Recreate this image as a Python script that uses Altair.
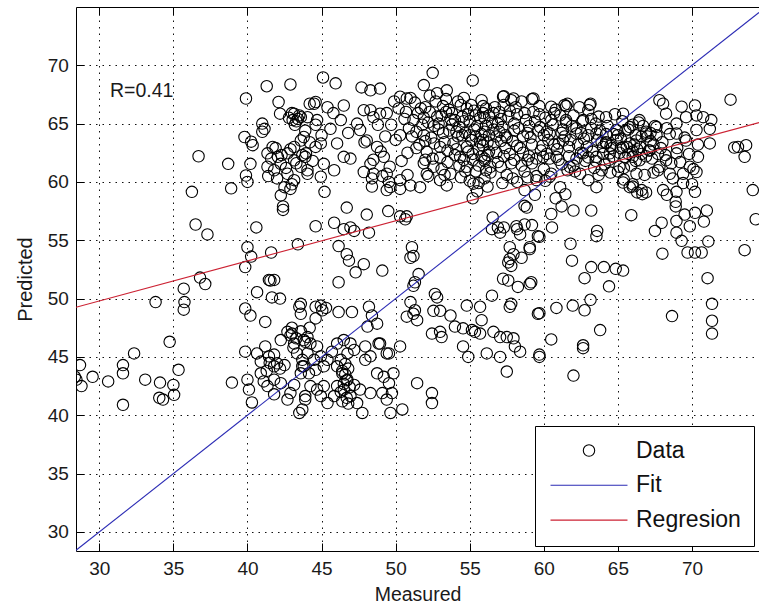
import altair as alt
import pandas as pd

# ---------------- data ----------------
x_domain = [28.43, 74.52]
y_domain = [28.37, 74.99]
x_ticks = [30, 35, 40, 45, 50, 55, 60, 65, 70]
y_ticks = [30, 35, 40, 45, 50, 55, 60, 65, 70]

series_names = ["Data", "Fit", "Regresion"]
series_colors = ["#000000", "#2b2bb4", "#cc2233"]

fit_x = [28.43, 74.52]
fit_y = [28.43, 74.52]
reg_x = [28.43, 74.52]
reg_y = [49.26, 65.08]

r_label = ["R=0.41"]
r_label_x = [30.72]
r_label_y = [67.77]

# scatter points (Measured, Predicted), grouped by region of the plot
cluster_far_left = [
    (28.35, 43.3), (28.46, 43.05), (28.7, 44.3), (28.8, 42.5), (29.55, 43.3), (30.6, 42.9),
    (31.6, 44.3), (31.6, 43.6), (31.6, 40.9), (32.35, 45.3), (33.1, 43.05), (33.8, 49.7),
    (34.1, 42.8), (34.05, 41.5), (34.3, 41.35), (34.75, 46.3), (35.0, 42.6), (35.05, 41.75),
    (35.35, 43.9), (35.7, 50.85), (35.75, 49.7), (35.7, 49.05), (36.5, 56.35), (37.3, 55.5),
    (36.8, 51.8), (37.15, 51.25), (38.95, 42.8), (39.85, 45.45),
]
cluster_left_low = [
    (40.0, 43.05), (40.1, 42.2), (40.3, 41.1), (39.85, 49.15), (40.2, 48.55), (39.85, 52.7),
    (40.0, 54.4), (40.25, 53.6), (40.6, 56.1), (40.65, 50.55), (41.2, 48.0), (41.55, 51.55),
    (41.65, 50.1), (41.6, 53.95), (43.4, 54.65), (42.4, 57.9), (42.4, 57.6),
    (40.65, 45.3), (40.9, 44.6), (41.2, 45.9), (41.45, 45.05), (41.8, 44.2), (42.0, 44.45),
    (41.8, 43.05), (42.25, 46.45), (42.7, 47.15), (42.9, 46.85), (43.15, 46.15), (43.35, 45.3),
    (43.7, 44.75), (43.8, 44.2), (43.6, 43.6), (44.05, 46.7), (43.15, 42.6), (42.9, 41.9),
    (42.7, 41.35), (43.5, 40.2), (43.9, 41.35), (41.1, 42.9), (41.35, 42.5), (40.9, 43.6),
    (41.8, 41.8), (42.25, 42.75), (43.0, 47.0), (43.3, 46.6), (43.6, 47.2), (43.9, 46.3),
    (44.2, 47.5), (43.1, 45.8), (41.5, 44.5), (41.8, 45.2), (42.2, 44.0), (42.5, 44.3),
    (41.3, 43.8), (43.5, 49.3), (43.0, 47.5), (42.2, 50.0), (41.8, 51.6), (41.45, 51.6),
]
cluster_mid_low = [
    (43.8, 46.45), (44.25, 46.15), (44.7, 45.9), (44.05, 45.3), (44.5, 44.75), (44.95, 45.05),
    (45.4, 44.75), (43.7, 44.2), (44.15, 43.6), (44.6, 43.9), (45.15, 44.2), (45.7, 45.45),
    (46.05, 46.15), (46.5, 46.45), (46.95, 46.15), (46.75, 45.3), (47.2, 45.6), (46.3, 44.75),
    (46.05, 44.2), (46.4, 43.6), (46.75, 43.05), (46.05, 42.5), (46.5, 42.2), (46.95, 41.65),
    (46.4, 41.2), (45.85, 41.65), (45.4, 41.05), (44.95, 41.65), (44.25, 42.5), (44.7, 42.2),
    (45.15, 42.5), (43.9, 41.65), (47.2, 42.6), (47.6, 42.2), (47.95, 44.75), (48.3, 45.05),
    (48.85, 46.15), (49.4, 45.3), (48.75, 43.6), (49.2, 43.3), (49.55, 42.75), (49.75, 41.9),
    (49.4, 41.35), (49.1, 41.9), (49.85, 43.6), (49.65, 40.2), (50.45, 40.5), (51.45, 42.75),
    (52.45, 41.9), (52.45, 41.05), (43.7, 40.5), (47.75, 40.2), (47.4, 41.05), (48.3, 41.9),
    (46.6, 43.5), (46.7, 43.0), (46.5, 42.7), (46.8, 44.0), (46.6, 44.4), (46.4, 43.8),
    (46.9, 42.4), (46.3, 42.0), (46.7, 41.5), (46.8, 41.0),
]
cluster_mid_band = [
    (46.7, 57.8), (48.05, 57.2), (49.5, 57.5), (50.3, 57.05), (50.65, 56.8), (50.75, 57.05),
    (44.6, 56.2), (45.85, 56.5), (46.5, 55.95), (46.95, 56.1), (47.2, 55.8), (48.2, 55.65),
    (46.15, 54.5), (46.7, 53.8), (46.85, 53.25), (47.85, 52.95), (47.3, 52.25), (49.1, 52.4),
    (46.15, 51.4), (51.1, 54.4), (51.2, 53.65), (51.0, 53.5), (51.55, 52.1), (51.3, 51.4),
    (51.2, 51.1), (56.5, 55.95), (57.05, 55.65), (57.3, 56.1), (58.15, 56.2), (58.7, 56.35),
    (58.85, 57.8), (58.4, 55.5), (59.6, 55.35), (57.7, 54.4), (57.95, 53.8), (57.7, 53.4),
    (57.6, 53.1), (57.8, 52.8), (59.05, 54.25), (57.25, 51.7), (57.6, 51.55), (58.25, 51.0),
    (59.05, 51.25), (57.8, 49.55), (57.7, 49.3), (59.6, 48.7), (59.7, 45.2),
    (43.6, 49.55), (44.6, 49.3), (45.05, 49.0), (44.95, 49.4), (46.15, 48.85), (47.05, 48.85),
    (48.2, 49.3), (48.4, 48.55), (48.75, 47.85), (48.1, 47.6), (48.95, 46.15), (47.95, 45.9),
    (49.55, 45.3), (50.3, 45.9), (50.75, 48.45), (51.2, 48.7), (51.45, 48.15), (51.0, 49.7),
    (51.3, 49.0), (52.45, 47.0), (52.65, 50.4), (52.8, 50.1), (52.55, 48.95), (53.0, 48.95),
    (53.1, 46.7), (53.0, 47.15), (53.7, 48.55), (54.0, 47.6), (54.55, 47.45), (54.8, 49.4),
    (55.15, 47.3), (55.35, 47.15), (55.7, 49.3), (55.8, 48.15), (55.7, 47.0), (56.5, 50.25),
    (56.6, 47.15), (57.05, 46.7), (57.5, 46.7), (57.95, 46.6), (58.05, 45.9), (58.4, 45.45),
    (56.15, 45.3), (57.05, 45.0), (57.5, 43.75), (54.55, 45.9), (54.9, 45.0), (43.6, 48.7),
    (45.3, 49.2), (44.6, 48.3), (58.7, 57.95), (58.2, 55.95), (59.2, 56.3), (56.55, 56.95),
    (56.9, 56.1), (58.5, 53.5),
]
cluster_right_mid = [
    (60.5, 57.25), (61.2, 57.9), (62.0, 57.55), (63.2, 57.55), (65.9, 57.15), (60.55, 56.1),
    (59.7, 55.3), (59.05, 54.4), (61.8, 54.7), (63.6, 55.8), (63.55, 55.35), (61.9, 53.25),
    (63.2, 52.7), (64.05, 52.7), (64.85, 52.55), (65.35, 52.4), (62.75, 51.75), (64.4, 51.05),
    (59.15, 51.4), (59.7, 48.75), (60.85, 49.2), (61.95, 49.4), (62.75, 49.0), (63.15, 49.9),
    (60.5, 46.5), (63.8, 47.3), (62.65, 46.0), (62.65, 45.75), (59.7, 45.0), (62.0, 43.4),
    (68.9, 57.9), (67.95, 56.5), (67.5, 55.8), (68.95, 56.65), (69.5, 57.2), (70.2, 57.35),
    (71.0, 57.55), (70.8, 56.6), (69.85, 56.2), (68.95, 55.65), (69.3, 54.95), (68.0, 53.85),
    (69.7, 53.95), (70.2, 53.95), (70.65, 53.95), (71.1, 54.9), (71.05, 51.75), (73.55, 54.15),
    (71.35, 49.55), (71.35, 48.1), (71.35, 47.0), (68.65, 48.5), (74.3, 56.8),
]
cluster_upper_left = [
    (39.9, 67.15), (41.3, 68.2), (42.9, 68.35), (42.1, 66.85), (42.2, 65.85), (43.15, 65.85),
    (43.4, 65.4), (43.05, 65.3), (43.6, 65.55), (44.2, 66.7), (41.0, 65.0), (41.15, 64.55),
    (41.0, 64.3), (39.8, 63.85), (40.25, 63.45), (40.35, 63.15), (36.7, 62.2), (38.7, 61.55),
    (40.2, 61.55), (39.9, 60.55), (40.0, 60.0), (38.9, 59.45), (36.25, 59.15), (41.35, 62.45),
    (41.7, 63.0), (42.05, 62.15), (41.35, 61.3), (41.8, 61.0), (42.25, 61.55), (42.7, 62.45),
    (43.15, 63.0), (43.6, 63.55), (43.15, 61.85), (43.6, 61.3), (42.7, 60.7), (43.15, 60.15),
    (42.5, 59.55), (43.95, 62.45), (44.05, 60.7), (42.25, 58.85), (42.8, 65.5), (43.0, 65.9),
    (43.3, 65.2), (43.5, 65.7), (43.2, 64.9), (41.6, 62.0), (41.9, 62.9), (42.3, 62.3),
    (42.6, 61.2), (42.9, 62.8), (43.3, 61.6), (43.7, 62.3), (44.2, 63.4), (44.4, 61.8),
    (41.4, 60.5), (42.0, 60.3), (43.0, 59.8), (42.9, 59.4),
]
cluster_upper_mid = [
    (45.1, 68.95), (45.95, 68.45), (47.7, 68.1), (48.3, 67.85), (48.95, 68.0), (52.5, 69.35),
    (51.9, 68.3), (55.2, 68.7), (44.6, 66.85), (44.5, 66.7), (46.5, 66.55), (50.3, 67.3),
    (50.75, 67.15), (52.8, 67.6), (53.45, 67.85), (57.25, 67.3), (57.95, 67.15), (59.3, 67.15),
    (44.05, 65.55), (43.8, 63.85), (44.7, 65.3), (44.6, 63.0), (45.6, 64.55), (46.05, 63.3),
    (43.9, 62.15), (44.95, 63.3), (45.15, 61.55), (44.05, 61.0), (44.95, 60.45), (45.85, 61.0),
    (46.5, 62.15), (46.95, 62.0), (47.6, 64.45), (47.85, 66.15), (48.3, 66.15), (48.5, 65.55),
    (48.95, 65.85), (48.05, 63.55), (48.75, 63.0), (49.2, 62.15), (48.3, 61.55), (47.85, 60.85),
    (48.5, 60.7), (49.4, 60.7), (49.65, 59.55), (50.3, 60.15), (51.0, 59.7), (51.65, 59.55),
    (52.1, 60.7), (52.55, 61.3), (53.0, 60.15), (53.45, 59.7), (53.7, 60.7), (54.8, 61.3),
    (54.35, 62.15), (55.25, 59.85), (45.2, 59.15), (48.8, 64.9), (49.3, 63.9), (49.0, 62.6),
    (48.5, 61.9), (47.9, 63.4), (47.4, 65.0), (46.8, 64.2), (46.3, 65.3), (45.8, 65.9),
    (45.4, 66.4), (45.0, 64.0), (44.6, 64.9), (43.9, 64.4), (48.4, 60.3), (49.4, 59.3),
    (49.55, 60.0),
]
cluster_dense = [
    (50.2, 66.3), (50.6, 65.4), (50.9, 64.6), (51.3, 66.8), (51.1, 63.9), (51.5, 65.9),
    (51.8, 64.9), (51.6, 63.2), (52.0, 66.4), (52.2, 65.1), (52.4, 63.8), (52.1, 62.6),
    (52.7, 66.9), (52.9, 64.5), (53.1, 65.7), (53.3, 63.4), (53.0, 62.1), (53.6, 66.2),
    (53.8, 64.9), (53.5, 61.7), (54.0, 65.3), (54.2, 63.9), (54.4, 66.6), (54.1, 62.8),
    (54.7, 64.2), (54.9, 65.8), (54.6, 61.9), (55.1, 63.6), (55.3, 66.1), (55.2, 62.4),
    (55.5, 64.8), (55.7, 65.5), (55.6, 61.4), (55.9, 63.1), (56.1, 66.3), (56.0, 64.3),
    (56.3, 62.6), (56.5, 65.1), (56.4, 60.8), (56.8, 63.9), (57.0, 66.0), (56.9, 61.7),
    (57.2, 64.7), (57.4, 62.9), (57.6, 65.6), (57.5, 60.6), (57.9, 63.5), (58.1, 66.4),
    (58.0, 61.9), (58.3, 64.6), (58.6, 62.5), (58.8, 65.3), (58.7, 60.9), (59.1, 63.8),
    (59.3, 66.0), (59.2, 61.6), (59.6, 64.4), (59.8, 62.7), (60.1, 65.5), (60.0, 61.1),
    (60.3, 63.6), (60.6, 64.9), (60.5, 60.7), (60.9, 62.8), (61.1, 65.7), (61.2, 61.5),
    (61.4, 63.9), (61.7, 62.2), (61.9, 64.8), (62.1, 60.9), (62.3, 63.2), (62.6, 65.2),
    (62.8, 61.8), (63.0, 64.0), (63.3, 62.6), (63.5, 65.0), (63.7, 60.6), (63.9, 63.4),
    (64.1, 61.5), (64.3, 64.8), (64.6, 62.9), (64.8, 65.8), (65.0, 60.9), (65.2, 63.7),
    (65.5, 62.1), (65.7, 64.5), (65.9, 61.4), (66.1, 63.2), (66.4, 65.1), (66.6, 62.4),
    (66.8, 60.6), (67.0, 63.9), (67.3, 62.0), (67.5, 64.8), (67.8, 61.3), (68.0, 63.4),
    (68.2, 62.3), (68.5, 64.1), (68.7, 60.3), (69.0, 62.9), (69.2, 61.7), (69.5, 63.8),
    (69.8, 62.4), (70.1, 61.1), (70.4, 63.2), (70.0, 59.8), (69.4, 59.9), (68.9, 58.3),
    (68.3, 58.9), (66.9, 59.1), (66.0, 59.8), (65.4, 60.2),
    (53.2, 64.2), (53.9, 63.3), (54.3, 64.7), (54.8, 63.0), (55.0, 65.2), (55.4, 63.9),
    (55.8, 64.1), (56.2, 63.4), (56.6, 64.5), (57.1, 63.5), (53.7, 65.4), (54.5, 65.6),
    (55.9, 65.9), (56.7, 66.4), (57.3, 66.6), (52.6, 64.8), (51.9, 64.0), (51.4, 62.9),
    (50.8, 62.5), (50.4, 61.8), (50.0, 63.6), (49.7, 64.9), (49.4, 65.9), (49.9, 66.9),
    (51.0, 67.2), (52.3, 67.4), (53.4, 67.1), (54.6, 67.2), (55.8, 67.0), (57.8, 67.0),
    (58.5, 66.9), (59.7, 66.5), (60.8, 66.2), (62.4, 66.4), (61.6, 66.7),
    (50.3, 64.0), (50.7, 66.0), (51.2, 65.3), (51.7, 66.3), (52.0, 63.5), (52.5, 62.0),
    (52.8, 65.6), (53.0, 63.0), (53.4, 66.0), (53.6, 64.4), (54.0, 62.3), (54.2, 66.9),
    (54.5, 64.0), (54.9, 62.6), (55.1, 66.6), (55.3, 64.5), (55.6, 62.8), (55.9, 66.5),
    (56.0, 62.0), (56.3, 65.7), (56.6, 63.2), (56.9, 65.0), (57.1, 61.3), (57.4, 64.0),
    (57.7, 62.4), (58.0, 65.0), (58.2, 63.1), (58.5, 61.4), (58.9, 64.2), (59.0, 62.2),
    (59.4, 65.2), (59.5, 60.5), (59.9, 63.1), (60.2, 64.3), (60.4, 62.0), (60.7, 65.9),
    (61.0, 63.3), (61.3, 64.5), (61.6, 61.0), (61.8, 63.6), (62.0, 65.7), (62.2, 62.0),
    (62.5, 64.2), (62.9, 63.0), (63.2, 65.4), (63.4, 61.2), (63.8, 64.4), (64.2, 63.4),
    (64.4, 61.9), (64.7, 64.1), (65.1, 62.5), (65.3, 65.2), (65.6, 63.0), (66.2, 61.8),
    (66.7, 64.8), (67.1, 62.7), (67.4, 60.8), (67.9, 62.9), (68.3, 64.6), (68.6, 61.6),
    (52.2, 60.5), (53.1, 61.1), (54.4, 60.4), (55.4, 60.9), (56.2, 59.6), (57.2, 59.9),
    (58.2, 60.0), (58.7, 59.3), (59.4, 58.9), (55.5, 59.2), (55.2, 58.6), (55.6, 59.9),
    (50.8, 60.6), (51.9, 61.6), (50.3, 59.4), (49.6, 61.3), (49.1, 60.5), (48.4, 59.6),
    (56.1, 61.0), (56.0, 61.8), (56.2, 62.3), (55.9, 63.6), (56.1, 64.8), (56.0, 60.3),
]
cluster_dense_core = [
    (51.4, 64.3), (51.9, 65.5), (52.3, 66.0), (52.6, 63.3), (52.9, 65.0), (53.2, 66.5),
    (53.5, 62.7), (53.8, 65.9), (54.1, 64.3), (54.3, 61.4), (54.6, 65.2), (54.8, 66.3),
    (55.0, 64.0), (55.2, 61.9), (55.4, 65.7), (55.7, 63.4), (55.8, 62.2), (56.0, 65.5),
    (56.3, 64.0), (56.4, 61.3), (56.6, 65.9), (56.8, 62.5), (57.0, 64.3), (57.1, 65.4),
    (57.3, 62.2), (57.5, 63.8), (57.7, 66.1), (57.8, 61.6), (58.0, 64.4), (58.2, 65.8),
    (58.4, 62.9), (58.6, 63.9), (58.7, 65.9), (58.9, 61.9), (59.0, 64.8), (59.2, 63.2),
    (59.5, 62.0), (59.7, 65.8), (60.0, 64.0), (60.2, 62.4), (60.5, 65.3), (60.7, 63.2),
    (61.0, 61.9), (61.2, 64.2), (61.5, 65.1), (61.7, 63.0), (62.0, 61.4), (62.2, 64.6),
    (62.5, 62.5), (62.7, 63.7), (63.0, 62.1), (63.2, 64.6), (63.5, 61.8), (63.7, 65.6),
    (64.0, 63.0), (64.2, 64.1), (64.5, 60.8), (64.7, 62.2), (65.0, 64.0), (65.2, 62.9),
    (65.4, 61.2), (65.7, 62.4), (66.0, 64.9), (66.3, 62.8), (66.6, 63.9), (66.9, 62.2),
    (67.2, 64.2), (67.4, 63.2), (67.7, 62.4), (52.0, 61.9), (53.3, 60.6), (54.7, 60.9),
    (55.0, 60.1), (57.9, 60.3), (58.9, 60.4), (60.1, 60.1),
]
cluster_upper_right = [
    (60.5, 66.45), (61.5, 66.5), (63.15, 66.7), (63.0, 66.15), (67.8, 67.0), (68.05, 66.7),
    (69.3, 66.45), (70.2, 66.55), (72.6, 67.05), (70.75, 65.55), (71.3, 65.3), (71.2, 64.55),
    (70.3, 65.7), (69.6, 65.55), (68.95, 65.0), (68.25, 65.85), (67.6, 64.7), (70.3, 64.45),
    (69.6, 63.55), (68.95, 64.15), (71.2, 63.3), (73.1, 63.0), (73.65, 63.15), (73.55, 62.15),
    (74.1, 59.3), (70.4, 62.15), (69.85, 61.3), (68.95, 62.45), (68.25, 61.85), (67.7, 61.0),
    (68.5, 60.7), (69.4, 60.7), (70.3, 60.85), (68.05, 59.3), (68.95, 59.15), (70.2, 59.15),
    (67.15, 62.7), (66.45, 61.85), (66.25, 60.7), (66.6, 59.3), (65.8, 59.55), (65.1, 61.3),
    (64.45, 62.45), (63.9, 61.0), (63.55, 59.55), (63.0, 60.15), (62.45, 60.7), (61.75, 61.3),
    (61.1, 59.55), (60.4, 60.45), (59.5, 60.15), (63.55, 64.15), (64.9, 64.45), (65.8, 64.7),
    (66.25, 63.55), (62.2, 64.15), (61.3, 63.55), (60.4, 64.15), (59.75, 64.7), (61.5, 65.3),
    (62.65, 65.3), (64.2, 65.55), (65.35, 65.85), (66.45, 65.3), (66.9, 64.15), (65.35, 63.0),
    (63.55, 62.15), (62.65, 62.45), (60.85, 62.15), (59.95, 62.15), (64.2, 63.3), (66.0, 62.15),
    (65.8, 63.3), (66.2, 64.0), (66.5, 63.0), (66.9, 64.3), (67.2, 63.5), (67.6, 64.0),
    (66.0, 62.6), (65.5, 64.4), (64.9, 63.6), (64.5, 63.1), (64.0, 62.4), (63.6, 63.6),
    (65.35, 59.95), (66.0, 59.6), (66.3, 59.1), (66.65, 58.95), (61.4, 66.6), (63.1, 66.6),
    (57.3, 67.35), (59.2, 67.1), (60.8, 58.6), (61.45, 58.95), (72.85, 62.95),
]

# ---------------- tables built from the lists ----------------
clusters = [cluster_far_left, cluster_left_low, cluster_mid_low, cluster_mid_band,
            cluster_right_mid, cluster_upper_left, cluster_upper_mid, cluster_dense,
            cluster_dense_core, cluster_upper_right]
pts = [p for c in clusters for p in c]
points_df = pd.DataFrame({"m": [p[0] for p in pts], "p": [p[1] for p in pts], "series": "Data"})
fit_df = pd.DataFrame({"m": fit_x, "p": fit_y, "series": "Fit"})
reg_df = pd.DataFrame({"m": reg_x, "p": reg_y, "series": "Regresion"})
txt_df = pd.DataFrame({"m": r_label_x, "p": r_label_y, "t": r_label})

FONT = "Liberation Sans, Arial, sans-serif"
LINE_PATH = "M-6.75,0H6.75"

xs = alt.Scale(domain=x_domain, nice=False, zero=False)
ys = alt.Scale(domain=y_domain, nice=False, zero=False)
color_scale = alt.Scale(domain=series_names, range=series_colors)
shape_scale = alt.Scale(domain=series_names, range=["circle", LINE_PATH, LINE_PATH])

leg = alt.Legend(
    title=None, orient="none", legendX=459, legendY=419,
    fillColor="white", strokeColor="black", padding=13,
    symbolSize=130, symbolStrokeWidth=1.1, symbolOffset=29.5, symbolFillColor="transparent",
    labelOffset=35.5, labelFontSize=23, labelFont=FONT, labelColor="#111111",
    rowPadding=10.8, zindex=5,
)

x_main = alt.Axis(orient="bottom", values=x_ticks, format="d", grid=True, gridDash=[1.5, 5],
                  gridColor="#111111", gridWidth=1, ticks=False, tickSize=0, domain=False,
                  labelFontSize=19, labelPadding=8.5, labelColor="#1a1a1a", labelFont=FONT,
                  title="Measured", titleFontSize=19.5, titleFontWeight="normal", titleFont=FONT,
                  titlePadding=7, titleColor="#1a1a1a")
y_main = alt.Axis(orient="left", values=y_ticks, format="d", grid=True, gridDash=[1.5, 5],
                  gridColor="#111111", gridWidth=1, ticks=False, tickSize=0, domain=False,
                  labelFontSize=19, labelPadding=7.7, labelColor="#1a1a1a", labelFont=FONT,
                  title="Predicted", titleFontSize=20, titleFontWeight="normal", titleFont=FONT,
                  titlePadding=12, titleColor="#1a1a1a")

def tick_axis(orient, values):
    return alt.Axis(orient=orient, values=values, offset=-8, ticks=True, tickSize=8,
                    tickColor="black", tickWidth=1, labels=False, domain=False, grid=False, title=None)

points = alt.Chart(points_df).mark_point(filled=False, size=130, strokeWidth=1.1, opacity=1, clip=True).encode(
    x=alt.X("m:Q", scale=xs, axis=x_main),
    y=alt.Y("p:Q", scale=ys, axis=y_main),
    color=alt.Color("series:N", scale=color_scale, legend=leg),
    shape=alt.Shape("series:N", scale=shape_scale, legend=leg),
)
fit = alt.Chart(fit_df).mark_line(strokeWidth=1.1, clip=True).encode(
    x=alt.X("m:Q", scale=xs, axis=tick_axis("top", x_ticks)),
    y=alt.Y("p:Q", scale=ys, axis=tick_axis("left", y_ticks)),
    color=alt.Color("series:N", scale=color_scale, legend=leg),
)
reg = alt.Chart(reg_df).mark_line(strokeWidth=1.1, clip=True).encode(
    x=alt.X("m:Q", scale=xs, axis=tick_axis("bottom", x_ticks)),
    y=alt.Y("p:Q", scale=ys, axis=None),
    color=alt.Color("series:N", scale=color_scale, legend=leg),
)
txt = alt.Chart(txt_df).mark_text(align="left", baseline="middle", fontSize=19.5, font=FONT, color="#1a1a1a").encode(
    x=alt.X("m:Q", scale=xs, axis=None),
    y=alt.Y("p:Q", scale=ys, axis=None),
    text="t:N",
)

chart = alt.layer(points, fit, reg, txt).resolve_axis(x="independent", y="independent").properties(
    width=683, height=544,
    padding={"left": 76, "top": 7, "right": 0, "bottom": 58},
    autosize=alt.AutoSizeParams(type="none"),
    background="white",
).configure(font=FONT).configure_view(stroke="black", strokeWidth=1)

chart.save("out.html", embed_options={"renderer": "svg", "actions": False})
